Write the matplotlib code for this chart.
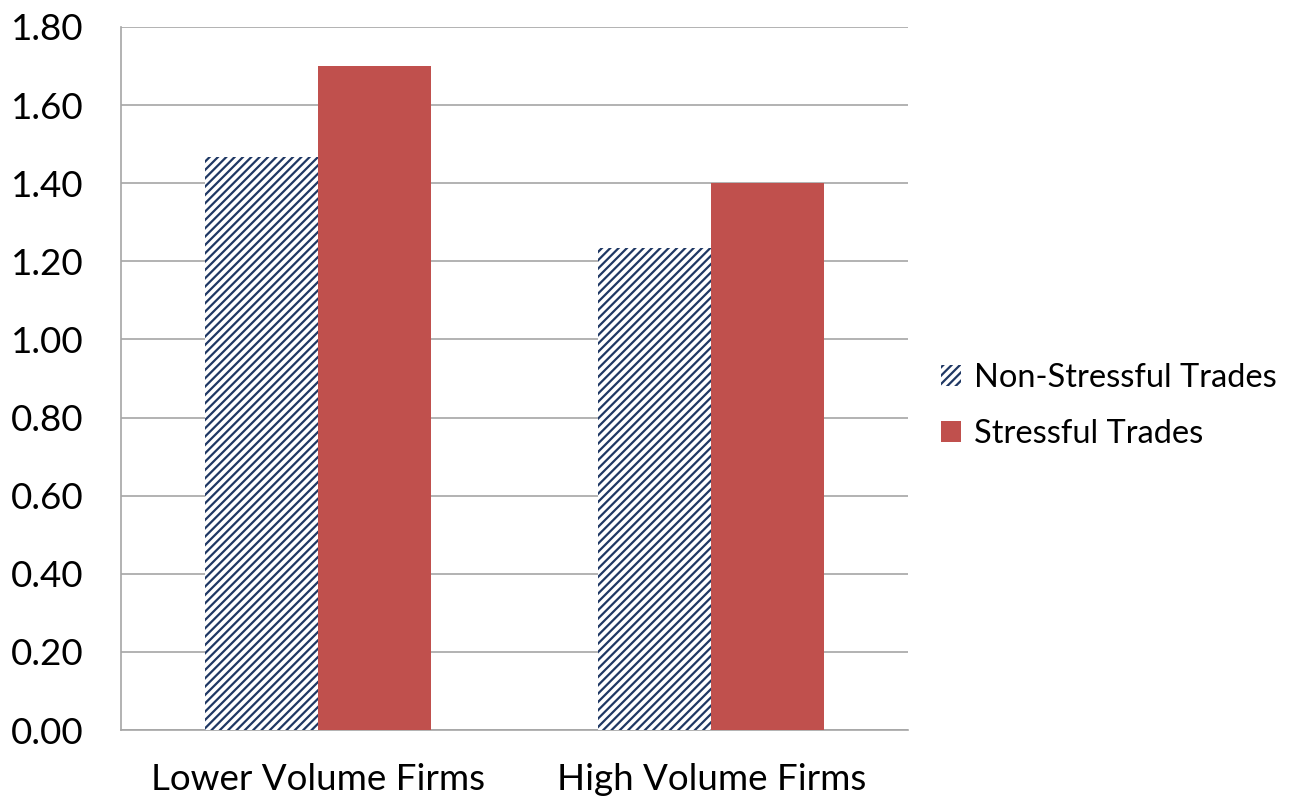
import matplotlib
matplotlib.use("Agg")
import matplotlib.pyplot as plt
import numpy as np

categories = ["Lower Volume Firms", "High Volume Firms"]
series_names = ["Non-Stressful Trades", "Stressful Trades"]
non_stressful = [1.467, 1.234]
stressful = [1.70, 1.40]
yticks = [0.0, 0.2, 0.4, 0.6, 0.8, 1.0, 1.2, 1.4, 1.6, 1.8]

plt.rcParams['font.family'] = ['Lato', 'DejaVu Sans']
plt.rcParams['hatch.linewidth'] = 1.6

fig = plt.figure(figsize=(12.93, 8), dpi=100)
ax = fig.add_axes([121/1293, 1 - 730/800, (908-121)/1293, (730-27)/800])

x = np.arange(len(categories))
w = 0.287
navy = "#1F3864"
red = "#C0504D"
ax.bar(x - w/2, non_stressful, w, facecolor="white", edgecolor=navy, hatch="////",
       linewidth=0, label=series_names[0], zorder=3)
ax.bar(x + w/2, stressful, w, color=red, linewidth=0, label=series_names[1], zorder=3)

ax.set_xlim(-0.5, 1.5)
ax.set_ylim(0, 1.8)
ax.set_yticks(yticks)
ax.set_yticklabels([f"{v:.2f}" for v in yticks], fontsize=26.5)
ax.set_xticks(x)
ax.set_xticklabels(categories, fontsize=26.5)
ax.tick_params(axis='both', length=0)
ax.tick_params(axis='y', pad=27)
ax.tick_params(axis='x', pad=24)
ax.yaxis.grid(True, color="#A6A6A6", linewidth=1.2, zorder=0)
ax.set_axisbelow(True)
for s in ["top", "right"]:
    ax.spines[s].set_visible(False)
for s in ["left", "bottom"]:
    ax.spines[s].set_color("#A6A6A6")
    ax.spines[s].set_linewidth(1.2)

leg = fig.legend(loc="center left", bbox_to_anchor=(912/1293, 1 - 406/800), frameon=False,
                 fontsize=23.5, handlelength=0.6, handleheight=0.6, handletextpad=0.4,
                 labelspacing=0.8)

fig.savefig("out.png", dpi=100)
